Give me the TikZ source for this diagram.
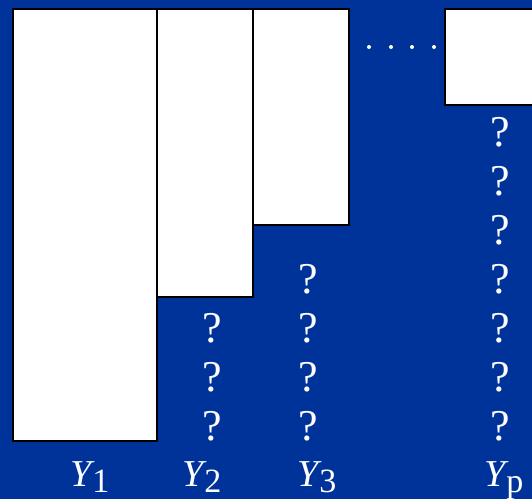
\documentclass[tikz,border=0pt]{standalone}
\usepackage{fontspec}
\setmainfont{Liberation Serif}
\definecolor{slide}{HTML}{003399}
\tikzset{
  bar/.style={draw=black,fill=white,line width=1.3pt},
  qm/.style={text=white,font=\fontsize{44}{44}\selectfont,anchor=base,inner sep=0pt},
  lab/.style={text=white,font=\fontsize{38}{38}\selectfont\itshape,anchor=base west,inner sep=0pt},
  dot/.style={circle,fill=white,inner sep=0pt,minimum size=4pt},
}
\newcommand{\ylab}[1]{Y\kern1pt\raisebox{-6pt}{\upshape\fontsize{34}{34}\selectfont #1}}
\begin{document}
\begin{tikzpicture}[x=1pt,y=-1pt]
\useasboundingbox (0,0) rectangle (532,499);
\fill[slide] (0,0) rectangle (532,499);
% the observed blocks
\draw[bar] (13,9) rectangle (157,441);
\draw[bar] (157,9) rectangle (253,297);
\draw[bar] (253,9) rectangle (349,225);
\draw[bar] (445,9) rectangle (545,105);
\foreach \x [count=\i] in {369,391,412,434} \node[dot] (d\i) at (\x,47) {};
% missing values
\foreach \c/\f in {212/5,308/4,500/1}
  \foreach \r in {\f,...,7}
    \node[qm] (q\c-\r) at (\c,{146+49*(\r-1)}) {?};
\node[lab] (y1) at (70,486) {\ylab{1}};
\node[lab] (y2) at (182,486) {\ylab{2}};
\node[lab] (y3) at (297,486) {\ylab{3}};
\node[lab] (yp) at (484,486) {\ylab{p}};
\end{tikzpicture}
\end{document}
